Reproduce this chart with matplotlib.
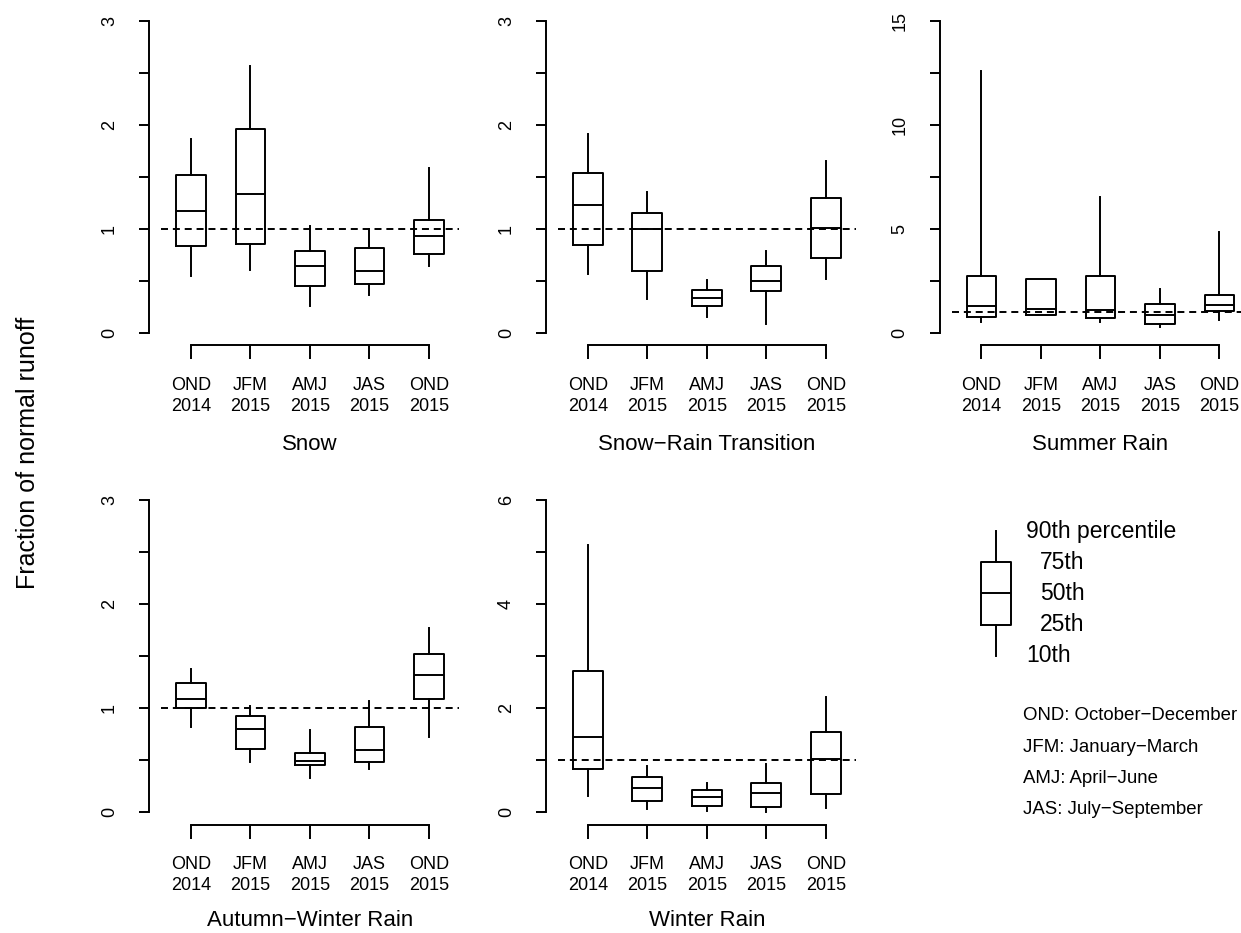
"""
Fraction of normal runoff by region and season (10/25/50/75/90th percentiles).
"""
import numpy as np
import matplotlib
matplotlib.use("Agg")
import matplotlib.pyplot as plt

plt.rcParams["font.family"] = ["Liberation Sans", "DejaVu Sans"]

# ── Data ────────────────────────────────────────────────────────────────
seasons = ["OND\n2014", "JFM\n2015", "AMJ\n2015", "JAS\n2015", "OND\n2015"]
regions = ["Snow", "Snow\u2212Rain Transition", "Summer Rain",
           "Autumn\u2212Winter Rain", "Winter Rain"]

snow_p10 = [0.55, 0.60, 0.26, 0.36, 0.64]
snow_p25 = [0.83, 0.85, 0.45, 0.47, 0.76]
snow_p50 = [1.17, 1.33, 0.645, 0.59, 0.93]
snow_p75 = [1.52, 1.96, 0.79, 0.81, 1.08]
snow_p90 = [1.86, 2.56, 1.03, 1.00, 1.58]

trans_p10 = [0.56, 0.32, 0.15, 0.08, 0.52]
trans_p25 = [0.84, 0.59, 0.26, 0.40, 0.72]
trans_p50 = [1.23, 1.00, 0.33, 0.50, 1.01]
trans_p75 = [1.54, 1.15, 0.41, 0.64, 1.30]
trans_p90 = [1.91, 1.35, 0.51, 0.79, 1.65]

summer_p10 = [0.50, 0.84, 0.50, 0.26, 0.61]
summer_p25 = [0.74, 0.84, 0.69, 0.42, 1.03]
summer_p50 = [1.27, 1.14, 1.08, 0.84, 1.33]
summer_p75 = [2.73, 2.57, 2.71, 1.39, 1.81]
summer_p90 = [12.6, 2.57, 6.54, 2.12, 4.84]

autwin_p10 = [0.82, 0.48, 0.33, 0.41, 0.72]
autwin_p25 = [1.00, 0.61, 0.45, 0.48, 1.09]
autwin_p50 = [1.09, 0.80, 0.49, 0.60, 1.32]
autwin_p75 = [1.24, 0.92, 0.57, 0.82, 1.52]
autwin_p90 = [1.375, 1.02, 0.79, 1.07, 1.77]

winter_p10 = [0.30, 0.06, 0.02, 0.00, 0.08]
winter_p25 = [0.83, 0.21, 0.12, 0.10, 0.34]
winter_p50 = [1.44, 0.46, 0.28, 0.37, 1.01]
winter_p75 = [2.72, 0.67, 0.42, 0.56, 1.54]
winter_p90 = [5.13, 0.88, 0.55, 0.92, 2.21]

# y axis: max, tick step, label step
y_max   = [3, 3, 15, 3, 6]
y_step  = [0.5, 0.5, 2.5, 0.5, 1]
y_lstep = [1, 1, 5, 1, 2]

normal_level = 1.0

legend_levels = [1, 2, 3, 4, 5]
legend_labels = ["10th", "25th", "50th", "75th", "90th percentile"]
season_key = ["OND: October\u2212December", "JFM: January\u2212March",
              "AMJ: April\u2212June", "JAS: July\u2212September"]

percentiles = [
    (snow_p10, snow_p25, snow_p50, snow_p75, snow_p90),
    (trans_p10, trans_p25, trans_p50, trans_p75, trans_p90),
    (summer_p10, summer_p25, summer_p50, summer_p75, summer_p90),
    (autwin_p10, autwin_p25, autwin_p50, autwin_p75, autwin_p90),
    (winter_p10, winter_p25, winter_p50, winter_p75, winter_p90),
]

# ── Figure ──────────────────────────────────────────────────────────────
W, H = 1241, 933
fig = plt.figure(figsize=(W / 100, H / 100), dpi=100)
LW = 1.4


def px_rect(left, top, width, height):
    return [left / W, 1 - (top + height) / H, width / W, height / H]


def make_stats(p10, p25, p50, p75, p90):
    return [dict(whislo=a, q1=b, med=c, q3=d, whishi=e, fliers=[])
            for a, b, c, d, e in zip(p10, p25, p50, p75, p90)]


panel_left = [149.3, 546.2, 939.8, 149.3, 546.2]
panel_top  = [8.2, 8.2, 8.2, 487.5, 487.5]
label_y    = [-0.296, -0.296, -0.296, -0.284, -0.284]
panel_w, panel_h = 321.3, 337.0
n = len(seasons)
pos = np.arange(1, n + 1)
box_kw = dict(color="black", linewidth=LW)

for i, name in enumerate(regions):
    ax = fig.add_axes(px_rect(panel_left[i], panel_top[i], panel_w, panel_h))
    ax.bxp(make_stats(*percentiles[i]), positions=pos, widths=0.5,
           showcaps=False, showfliers=False,
           boxprops=box_kw, whiskerprops=box_kw, medianprops=box_kw)
    ax.plot([0.5, n + 0.5], [normal_level, normal_level], color="black",
            linewidth=LW, linestyle=(0, (3.6, 2.5)), clip_on=False, zorder=3)

    ymax = y_max[i]
    ax.set_xlim(0.3, n + 0.7)
    ax.set_ylim(-0.04 * ymax, 1.04 * ymax)

    for side in ("top", "right"):
        ax.spines[side].set_visible(False)
    ax.spines["left"].set_bounds(0, ymax)
    ax.spines["bottom"].set_bounds(1, n)
    for side in ("left", "bottom"):
        ax.spines[side].set_linewidth(LW)

    yt = np.arange(0, ymax + 1e-9, y_step[i])
    ylab = [f"{v:g}" if abs(v / y_lstep[i] - round(v / y_lstep[i])) < 1e-9 else ""
            for v in yt]
    ax.set_yticks(yt)
    ax.set_yticklabels(ylab, rotation=90, va="center", fontsize=13)
    ax.set_xticks(pos)
    ax.set_xticklabels(seasons, fontsize=13, linespacing=1.3)
    ax.tick_params(axis="y", direction="out", length=7.5, width=LW, pad=15)
    ax.tick_params(axis="x", direction="out", length=10, width=LW, pad=13)

    ax.set_xlabel(name, fontsize=16, va="center")
    ax.xaxis.set_label_coords(0.5, label_y[i])

fig.text(28 / W, 1 - 453 / H, "Fraction of normal runoff", rotation=90,
         ha="center", va="center", fontsize=18)

# ── Legend schematic ────────────────────────────────────────────────────
leg = fig.add_axes(px_rect(966, 515.4, 275, 156.2))
leg.set_xlim(0, 275 / 60)
leg.set_ylim(0.5, 5.5)
leg.axis("off")
lo, q1, med, q3, hi = legend_levels
leg.bxp([dict(whislo=lo, q1=q1, med=med, q3=q3, whishi=hi, fliers=[])],
        positions=[0.5], widths=0.5, showcaps=False, showfliers=False,
        boxprops=box_kw, whiskerprops=box_kw, medianprops=box_kw)
for lvl, lab in zip(legend_levels, legend_labels):
    x0 = 1.0 if lvl in (1, 5) else 1.23
    leg.text(x0, lvl, lab, ha="left", va="center", fontsize=16.5)

for k, txt in enumerate(season_key):
    fig.text(1023 / W, 1 - (716 + 31.3 * k) / H, txt, ha="left", va="center",
             fontsize=13.4)

fig.savefig("out.png", dpi=100)
